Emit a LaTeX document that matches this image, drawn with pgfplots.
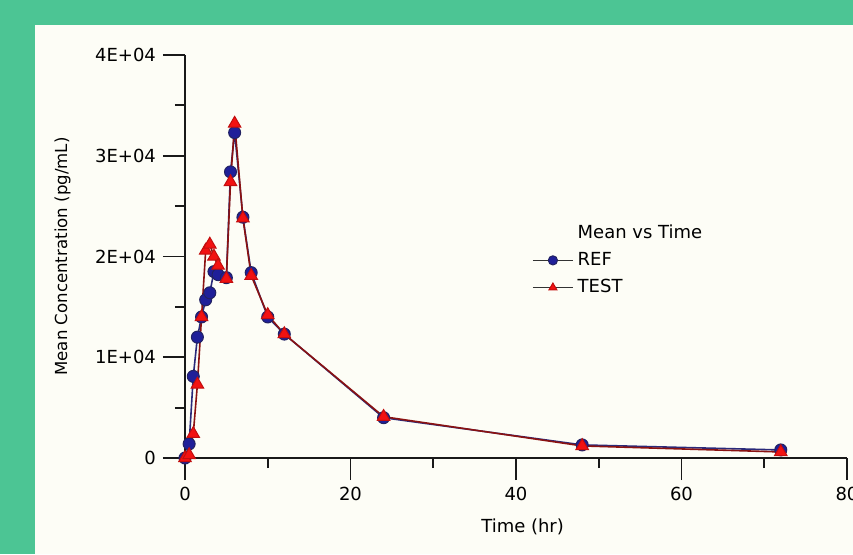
\documentclass[border=0pt]{standalone}
\usepackage{fontspec}
\setmainfont{DejaVu Sans}
\usepackage{pgfplots}
\pgfplotsset{compat=1.18}

\definecolor{bggreen}{HTML}{4CC594}
\definecolor{panel}{HTML}{FDFDF6}
\definecolor{refblue}{HTML}{1F1F99}
\definecolor{refline}{HTML}{2A2A7A}
\definecolor{testred}{HTML}{F21212}
\definecolor{testline}{HTML}{8A1212}

\begin{document}
\begin{tikzpicture}
% page frame: 1px of the reference = 0.5pt
\clip (-92.5pt,-48pt) rectangle (334pt,229pt);
\fill[bggreen] (-92.5pt,-48pt) rectangle (334pt,229pt);
\fill[panel] (-75pt,-48pt) rectangle (334pt,216.5pt);
\begin{axis}[
    at={(0,0)}, anchor=south west,
    scale only axis,
    width=331pt, height=201.5pt,
    xmin=0, xmax=80, ymin=0, ymax=40000,
    axis lines*=left,
    axis line style={line width=1pt, color=black!90},
    xtick={0,20,40,60,80},
    ytick={0,10000,20000,30000,40000},
    yticklabels={0,1E+04,2E+04,3E+04,4E+04},
    scaled y ticks=false,
    minor x tick num=1,
    minor y tick num=1,
    tick align=outside,
    major tick length=11pt,
    minor tick length=5pt,
    tick style={line width=0.9pt, color=black!90},
    /pgf/number format/assume math mode=true,
    ticklabel style={font=\fontsize{9}{10}\selectfont},
    xlabel={Time (hr)},
    ylabel={Mean Concentration (pg/mL)},
    xlabel style={font=\fontsize{9}{10}\selectfont, at={(axis description cs:0.51,-0.171)}, anchor=center},
    ylabel style={font=\fontsize{8.3}{10}\selectfont, at={(axis description cs:-0.185,0.5)}, anchor=center},
    legend style={draw=none, fill=none, at={(axis cs:41.9,23600)}, anchor=north west,
        font=\fontsize{9}{10}\selectfont, inner sep=0pt, row sep=1.5pt},
    legend cell align=left,
    legend image code/.code={\draw[mark repeat=2,mark phase=2,#1,draw=black!80,mark size=2.3pt] plot coordinates {(0pt,0pt) (10pt,0pt) (20pt,0pt)};},
    clip=false,
]
\addlegendimage{empty legend}
\addlegendentry{Mean vs Time}

\addplot[color=refline, line width=0.8pt, mark=*, mark size=3pt,
    mark options={fill=refblue, draw=refline!80!black, line width=0.5pt}]
coordinates {
(0,0) (0.5,1400) (1,8100) (1.5,12000) (2,14000) (2.5,15700) (3,16400)
(3.5,18500) (4,18200) (5,17900) (5.5,28400) (6,32300) (7,23900) (8,18400)
(10,14000) (12,12300) (24,4000) (48,1300) (72,800)
};
\addlegendentry{REF}

\addplot[color=testline, line width=0.8pt, mark=triangle*, mark size=3.6pt,
    mark options={fill=testred, draw=testred!80!black, line width=0.5pt}]
coordinates {
(0,0) (0.5,300) (1,2400) (1.5,7300) (2,14000) (2.5,20600) (3,21200)
(3.5,20000) (4,19100) (5,17800) (5.5,27400) (6,33200) (7,23800) (8,18100)
(10,14200) (12,12300) (24,4100) (48,1200) (72,600)
};
\addlegendentry{TEST}
\end{axis}
\end{tikzpicture}
\end{document}
